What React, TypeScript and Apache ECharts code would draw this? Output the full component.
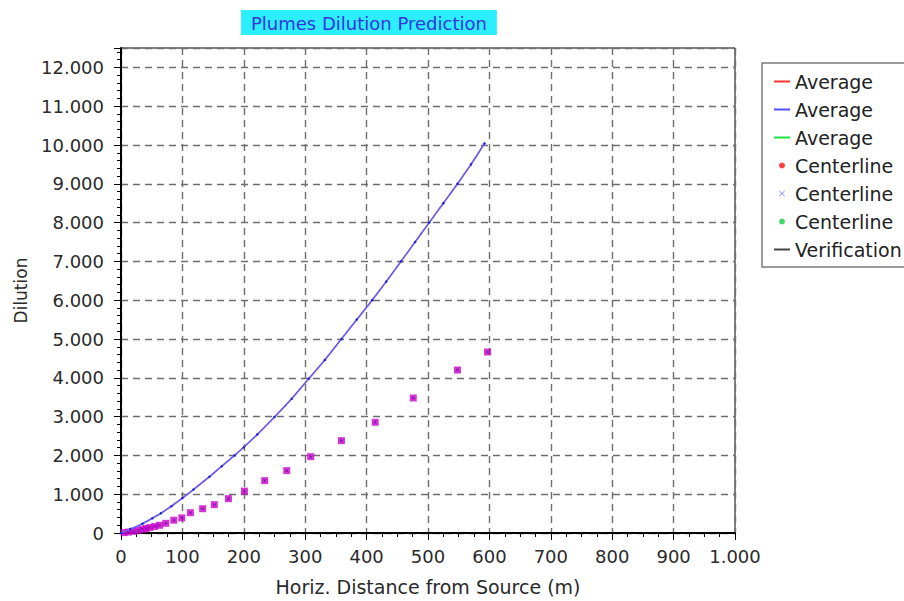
import React, { useEffect, useRef } from "react";
import * as echarts from "echarts";

// Average (plume) dilution curve: distance (m) and dilution
const averageDistance = [0, 15, 35, 51, 65, 82, 100, 118, 144, 164, 185, 200, 222, 250, 278, 306, 332, 359, 384, 409, 432, 456, 479, 502, 525, 548, 570, 592];
const averageDilution = [0, 100, 240, 380, 510, 690, 900, 1120, 1450, 1720, 2000, 2210, 2540, 2990, 3460, 3980, 4460, 5000, 5500, 6000, 6480, 7000, 7500, 8000, 8500, 9000, 9500, 10040];

// Centerline dilution points
const centerlineDistance = [5, 12, 20, 28, 35, 41, 47, 55, 63, 73, 86, 99, 113, 133, 152, 175, 201, 234, 270, 309, 359, 414, 476, 548, 597];
const centerlineDilution = [10, 25, 45, 70, 95, 115, 140, 170, 200, 250, 330, 390, 523, 626, 730, 885, 1080, 1350, 1607, 1967, 2380, 2853, 3480, 4200, 4665];

// Verification points (none shown)
const verificationDistance: number[] = [];
const verificationDilution: number[] = [];

const legendLabels: Record<string, string> = {
  avgRed: "Average",
  avgBlue: "Average",
  avgGreen: "Average",
  clRed: "Centerline",
  clBlue: "Centerline",
  clGreen: "Centerline",
  verif: "Verification",
};

const titleText = "Plumes Dilution Prediction";
const xAxisName = "Horiz. Distance from Source (m)";
const yAxisName = "Dilution";

const pairs = (xs: number[], ys: number[]) => xs.map((x, i) => [x, ys[i]]);

const fmt = (v: number) => String(v).replace(/\B(?=(\d{3})+(?!\d))/g, ".");

const FONT = "DejaVu Sans";
const LINE_ICON = "path://M0,0h16v2h-16z";
const X_ICON = "path://M0,1L1,0L5,4L9,0L10,1L6,5L10,9L9,10L5,6L1,10L0,9L4,5Z";

export default function App() {
  const ref = useRef<HTMLDivElement>(null);

  useEffect(() => {
    if (!ref.current) return;
    const chart = echarts.init(ref.current, undefined, { renderer: "svg" });
    const avg = pairs(averageDistance, averageDilution);
    const cl = pairs(centerlineDistance, centerlineDilution);
    const ver = pairs(verificationDistance, verificationDilution);

    const axisCommon = {
      type: "value" as const,
      axisLine: { show: true, onZero: false, lineStyle: { color: "#000", width: 2 } },
      axisTick: { show: true, length: 7, lineStyle: { color: "#000", width: 1 } },
      minorTick: { show: true, length: 4, lineStyle: { color: "#000", width: 1 } },
      splitLine: { show: true, lineStyle: { color: "#6e6e6e", width: 1.4, type: [7, 5] as any } },
    };

    chart.setOption({
      animation: false,
      backgroundColor: "#fff",
      textStyle: { fontFamily: FONT },
      title: {
        text: titleText,
        left: 241,
        top: 10,
        padding: [4, 10, 3, 10],
        backgroundColor: "#2BEFFF",
        textStyle: { color: "#3535E0", fontFamily: FONT, fontSize: 18, fontWeight: "normal" },
      },
      grid: {
        left: 121,
        right: 169,
        top: 48,
        bottom: 67,
        show: true,
        borderColor: "#000",
        borderWidth: 1,
        backgroundColor: "transparent",
      },
      xAxis: {
        ...axisCommon,
        min: 0,
        max: 1000,
        interval: 100,
        minorTick: { ...axisCommon.minorTick, splitNumber: 4 },
        axisLabel: { margin: 14, fontSize: 18, color: "#2a2a2a", fontFamily: FONT, formatter: (v: number) => fmt(v) },
        name: xAxisName,
        nameLocation: "middle",
        nameGap: 44,
        nameTextStyle: { fontSize: 19, color: "#2a2a2a", fontFamily: FONT },
      },
      yAxis: {
        ...axisCommon,
        min: 0,
        max: 12500,
        interval: 1000,
        minorTick: { ...axisCommon.minorTick, splitNumber: 5 },
        axisLabel: {
          margin: 17,
          fontSize: 18,
          color: "#2a2a2a",
          fontFamily: FONT,
          showMaxLabel: false,
          formatter: (v: number) => (v % 1000 === 0 ? fmt(v) : ""),
        },
        name: yAxisName,
        nameLocation: "middle",
        nameGap: 92,
        nameTextStyle: { fontSize: 17, color: "#2a2a2a", fontFamily: FONT },
      },
      legend: {
        orient: "vertical",
        left: 762,
        top: 63,
        padding: [9, 14, 8, 12],
        itemGap: 9,
        itemWidth: 16,
        itemHeight: 6,
        backgroundColor: "#fff",
        borderColor: "#7a7a7a",
        borderWidth: 1.5,
        selectedMode: false,
        textStyle: { fontSize: 19, color: "#222", fontFamily: FONT },
        formatter: (n: string) => legendLabels[n] ?? n,
        data: [
          { name: "avgRed", icon: LINE_ICON, itemStyle: { color: "#FF3030" } },
          { name: "avgBlue", icon: LINE_ICON, itemStyle: { color: "#5050FF" } },
          { name: "avgGreen", icon: LINE_ICON, itemStyle: { color: "#20E040" } },
          { name: "clRed", icon: "circle", itemStyle: { color: "#FF1010" } },
          { name: "clBlue", icon: X_ICON, itemStyle: { color: "#7070FF" } },
          { name: "clGreen", icon: "circle", itemStyle: { color: "#10D040" } },
          { name: "verif", icon: LINE_ICON, itemStyle: { color: "#444" } },
        ],
      },
      series: [
        {
          name: "avgGreen",
          type: "line",
          data: avg,
          symbol: "none",
          smooth: 0.3,
          lineStyle: { color: "#20E040", width: 1 },
          itemStyle: { color: "#20E040" },
        },
        {
          name: "avgRed",
          type: "line",
          data: avg,
          symbol: "none",
          smooth: 0.3,
          lineStyle: { color: "#FF3030", width: 1.2 },
          itemStyle: { color: "#FF3030" },
        },
        {
          name: "avgBlue",
          type: "line",
          data: avg,
          symbol: "circle",
          symbolSize: 2.5,
          showSymbol: true,
          smooth: 0.3,
          lineStyle: { color: "#6262FF", width: 1.6 },
          itemStyle: { color: "#2020D8" },
        },
        {
          name: "clGreen",
          type: "scatter",
          data: cl,
          symbol: "circle",
          symbolSize: 3,
          itemStyle: { color: "#10D040" },
        },
        {
          name: "clRed",
          type: "scatter",
          data: cl,
          symbol: "rect",
          symbolSize: 7,
          itemStyle: { color: "#CC00CC" },
        },
        {
          name: "clBlue",
          type: "scatter",
          data: cl,
          symbol: X_ICON,
          symbolSize: 3,
          itemStyle: { color: "#6A00B8" },
        },
        {
          name: "verif",
          type: "line",
          data: ver,
          symbol: "none",
          lineStyle: { color: "#444", width: 1.3 },
          itemStyle: { color: "#444" },
        },
      ],
    });
    return () => chart.dispose();
  }, []);

  return (
    <div
      ref={ref}
      style={{ position: "fixed", left: 0, top: 0, width: 904, height: 601 }}
    />
  );
}
